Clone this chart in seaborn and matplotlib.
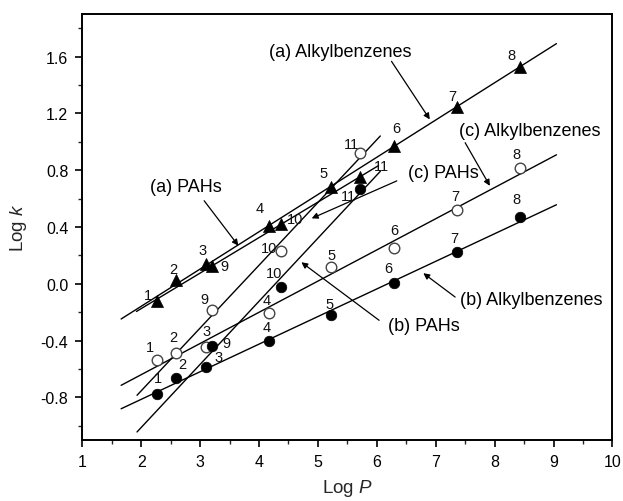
import numpy as np
import pandas as pd
import matplotlib
matplotlib.use("Agg")
import matplotlib.pyplot as plt
from matplotlib.ticker import MultipleLocator, FormatStrFormatter
import seaborn as sns

# ---------------- data ----------------
alkyl_logp = [2.27, 2.59, 3.10, 4.17, 5.23, 6.30, 7.36, 8.43]
alkyl_ids = [1, 2, 3, 4, 5, 6, 7, 8]
pah_logp = [3.21, 4.38, 5.71]
pah_ids = [9, 10, 11]

alkyl_a = [-0.124, 0.03, 0.14, 0.41, 0.683, 0.97, 1.247, 1.53]
alkyl_b = [-0.777, -0.66, -0.589, -0.402, -0.218, 0.005, 0.222, 0.468]
alkyl_c = [-0.533, -0.49, -0.445, -0.206, 0.117, 0.25, 0.519, 0.819]
pah_a = [0.128, 0.42, 0.753]
pah_b = [-0.44, -0.019, 0.667]
pah_c = [-0.182, 0.229, 0.919]

# label offsets (pixels, dx, dy up)
off_alkyl_a = [(-9, 6), (-3, 11), (-3, 14), (-9, 18), (-8, 14), (2, 18), (-5, 11), (-8, 12)]
off_pah_a = [(12, 0), (14, 5), (22, 11)]
off_alkyl_c = [(-7, 13), (-3, 16), (1, 16), (-2, 13), (0, 12), (0, 18), (-2, 14), (-3, 14)]
off_pah_c = [(-8, 11), (-12, 3), (-8, 9)]
off_alkyl_b = [(1, 16), (6, 14), (13, 10), (-2, 14), (-2, 11), (-6, 15), (-3, 14), (-3, 18)]
off_pah_b = [(14, 3), (-7, 14), (-11, -7)]

alkyl_fit_range = (1.66, 9.05)
pah_fit_range = {"a": (1.92, 6.03), "b": (1.93, 6.06), "c": (1.93, 6.06)}

# annotations: text, text centre, arrow tail, arrow head
notes = [
    ("(a) Alkylbenzenes", (5.38, 1.637), (6.25, 1.567), (6.90, 1.158)),
    ("(a) PAHs", (2.76, 0.686), (3.07, 0.585), (3.65, 0.269)),
    ("(c) Alkylbenzenes", (8.59, 1.083), (7.50, 0.994), (7.92, 0.69)),
    ("(c) PAHs", (7.13, 0.784), (6.34, 0.725), (4.895, 0.461)),
    ("(b) PAHs", (6.80, -0.292), (6.04, -0.257), (4.72, 0.152)),
    ("(b) Alkylbenzenes", (8.63, -0.112), (7.33, -0.093), (6.79, 0.075)),
]

# ---------------- style ----------------
sns.set_theme(style="ticks")
plt.rcParams["font.family"] = ["Liberation Sans", "DejaVu Sans"]
plt.rcParams["mathtext.fontset"] = "custom"
plt.rcParams["mathtext.it"] = "Liberation Sans:italic"
plt.rcParams["mathtext.rm"] = "Liberation Sans"
plt.rcParams["axes.unicode_minus"] = False

fig = plt.figure(figsize=(6.23, 5.02), dpi=100)
ax = fig.add_axes([0.132, 0.1215, 0.851, 0.8485])

def series_df(x, y, ids, group):
    return pd.DataFrame({"logP": x, "logk": y, "id": ids, "group": group})

df_tri = pd.concat([series_df(alkyl_logp, alkyl_a, alkyl_ids, "a"),
                    series_df(pah_logp, pah_a, pah_ids, "a")])
df_open = pd.concat([series_df(alkyl_logp, alkyl_c, alkyl_ids, "c"),
                     series_df(pah_logp, pah_c, pah_ids, "c")])
df_closed = pd.concat([series_df(alkyl_logp, alkyl_b, alkyl_ids, "b"),
                       series_df(pah_logp, pah_b, pah_ids, "b")])

# regression lines
def fit_line(x, y, rng):
    m, b = np.polyfit(x, y, 1)
    xs = np.array(rng)
    ax.plot(xs, m * xs + b, color="black", lw=1.0, zorder=2)

fit_line(alkyl_logp, alkyl_a, alkyl_fit_range)
fit_line(alkyl_logp, alkyl_b, alkyl_fit_range)
fit_line(alkyl_logp, alkyl_c, alkyl_fit_range)
fit_line(pah_logp, pah_a, pah_fit_range["a"])
fit_line(pah_logp, pah_b, pah_fit_range["b"])
fit_line(pah_logp, pah_c, pah_fit_range["c"])

sns.scatterplot(data=df_tri, x="logP", y="logk", marker="^", s=75,
                color="black", edgecolor="black", linewidth=0.5, ax=ax, zorder=3)
sns.scatterplot(data=df_open, x="logP", y="logk", marker="o", s=58,
                facecolor="white", edgecolor="#444444", linewidth=1.0, ax=ax, zorder=3)
sns.scatterplot(data=df_closed, x="logP", y="logk", marker="o", s=58,
                color="black", edgecolor="black", linewidth=0.5, ax=ax, zorder=3)

def label_points(x, y, ids, offs):
    for xi, yi, i, (dx, dy) in zip(x, y, ids, offs):
        ax.annotate(str(i), (xi, yi), xytext=(dx, dy), textcoords="offset pixels",
                    ha="center", va="center", fontsize=10.5, color="#111111", zorder=4)

label_points(alkyl_logp, alkyl_a, alkyl_ids, off_alkyl_a)
label_points(pah_logp, pah_a, pah_ids, off_pah_a)
label_points(alkyl_logp, alkyl_c, alkyl_ids, off_alkyl_c)
label_points(pah_logp, pah_c, pah_ids, off_pah_c)
label_points(alkyl_logp, alkyl_b, alkyl_ids, off_alkyl_b)
label_points(pah_logp, pah_b, pah_ids, off_pah_b)

for txt, tpos, tail, head in notes:
    ax.text(tpos[0], tpos[1], txt, ha="center", va="center", fontsize=13, color="black")
    ax.annotate("", xy=head, xytext=tail,
                arrowprops=dict(arrowstyle="-|>", color="black", lw=0.9,
                                mutation_scale=9, shrinkA=0, shrinkB=0))

# axes
ax.set_xlim(1, 10)
ax.set_ylim(-1.1, 1.9)
ax.xaxis.set_major_locator(MultipleLocator(1))
ax.xaxis.set_minor_locator(MultipleLocator(0.5))
ax.yaxis.set_major_locator(MultipleLocator(0.4))
ax.yaxis.set_minor_locator(MultipleLocator(0.2))
ax.set_yticks(np.arange(-0.8, 1.61, 0.4))
ax.yaxis.set_major_formatter(FormatStrFormatter("%.1f"))
ax.tick_params(which="major", direction="out", length=5, width=1.2, labelsize=11.5,
               colors="black", pad=5)
ax.tick_params(which="minor", direction="out", length=3, width=1.0)
for sp in ax.spines.values():
    sp.set_visible(True)
    sp.set_linewidth(1.4)
    sp.set_color("black")
ax.set_xlabel("Log $P$", fontsize=13.5, labelpad=6)
ax.set_ylabel("Log $k$", fontsize=13.5, labelpad=8)

fig.savefig("out.png", dpi=100)
